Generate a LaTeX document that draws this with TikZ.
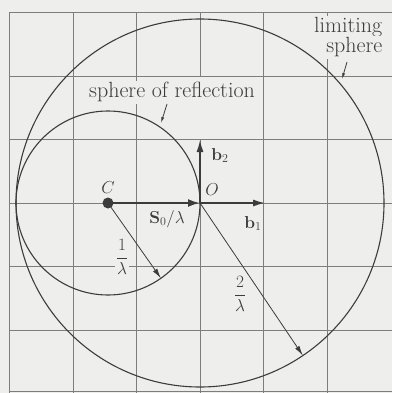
\documentclass[tikz,border=0pt]{standalone}
\usetikzlibrary{arrows.meta,calc}
\definecolor{bg}{RGB}{238,238,237}
\definecolor{gridc}{RGB}{125,125,125}
\definecolor{ink}{RGB}{60,60,60}
\begin{document}
\begin{tikzpicture}[x=1pt,y=-1pt,
  gridline/.style={gridc, line width=0.9pt},
  circ/.style={ink, line width=1.1pt},
  vecthick/.style={ink, line width=2pt, -{Latex[length=12pt,width=8pt]}},
  vecaxis/.style={ink, line width=1.4pt, -{Latex[length=12pt,width=7pt]}},
  rad/.style={ink, line width=0.8pt, -{Latex[length=10pt,width=5pt]}},
  pointer/.style={ink, line width=0.8pt, -{Latex[length=6pt,width=3pt]}},
  txt/.style={text=ink, font=\fontsize{22}{20}\selectfont, fill=bg, inner sep=1.5pt},
  lab/.style={text=ink, font=\fontsize{18.5}{20}\selectfont, inner sep=1pt}]
\fill[bg] (0,0) rectangle (392,393);
\useasboundingbox (0,0) rectangle (392,393);
% grid
\foreach \x in {9.5,73,136.5,263.5,327} \draw[gridline] (\x,12.5) -- (\x,393);
\draw[gridline] (200,12.5) -- (200,76);
\draw[gridline] (200,139.5) -- (200,393);
\foreach \y in {12.5,76,139.5,203,266.5,330,391} \draw[gridline] (9.5,\y) -- (392,\y);
% key points
\coordinate (O) at (200,203);
\coordinate (C) at (108,203);
\coordinate (B1) at (265,203);
\coordinate (B2) at (200,140);
\coordinate (R1) at ($(C)+(-54.9:92pt)$);
\coordinate (R2) at ($(O)+(-56:184pt)$);
% texts
\node[txt, anchor=base] (sor) at (172,98) {sphere of reflection};
\node[txt, anchor=base east] (lim1) at (384,33) {limiting};
\node[txt, anchor=base east] (lim2) at (384,53) {sphere};
\node[lab, fill=bg, inner sep=0.5pt] (f1) at (122,257) {$\displaystyle\frac{1}{\lambda}$};
\node[lab, fill=bg, inner sep=0.5pt] (f2) at (240,294) {$\displaystyle\frac{2}{\lambda}$};
% circles
\draw[circ] (C) circle[radius=92pt];
\draw[circ] (O) circle[radius=184pt];
% vectors
\draw[vecthick] (C) -- (O);
\draw[vecaxis] (O) -- (B1);
\draw[vecaxis] (O) -- (B2);
\draw[rad] (C) -- (R1);
\draw[rad] (O) -- (R2);
\fill[ink] (C) circle[radius=5.5pt];
% pointers
\coordinate (p1a) at (167,104);
\coordinate (p1b) at (161,123);
\coordinate (p2a) at (347,62);
\coordinate (p2b) at (342,79);
\draw[pointer] (p1a) -- (p1b);
\draw[pointer] (p2a) -- (p2b);
% labels
\node[lab, anchor=base] (lC) at (108,193) {$C$};
\node[lab, anchor=base] (lO) at (212,195) {$O$};
\node[lab, anchor=base] (lS) at (167,223) {$\mathbf{S}_0/\lambda$};
\node[lab, anchor=base] (lb2) at (220,160) {$\mathbf{b}_2$};
\node[lab, anchor=base] (lb1) at (253,228) {$\mathbf{b}_1$};
\end{tikzpicture}
\end{document}
